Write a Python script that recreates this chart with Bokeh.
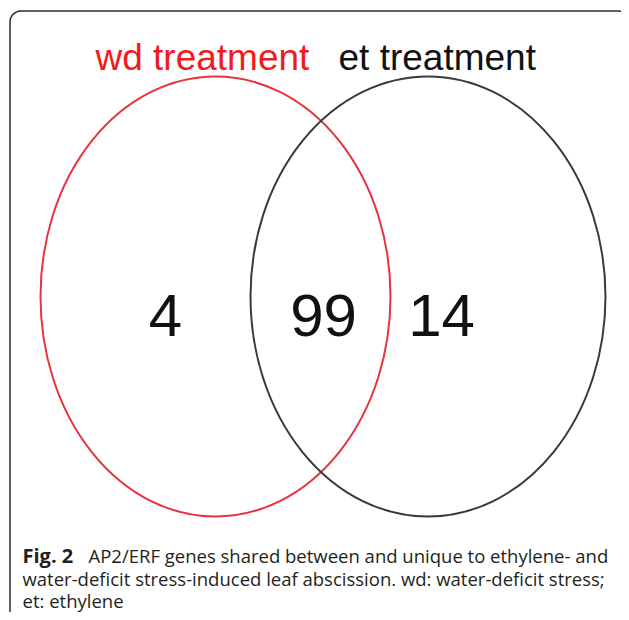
import numpy as np
from bokeh.plotting import figure
from bokeh.models import Range1d
from bokeh.core.properties import value
from bokeh.embed import file_html
from bokeh.resources import INLINE

# ---- data ----
set_names = ["wd treatment", "et treatment"]
region_names = ["wd only", "shared", "et only"]
region_counts = [4, 99, 14]
caption_label = "Fig. 2"
caption_lines = [
    "AP2/ERF genes shared between and unique to ethylene- and",
    "water-deficit stress-induced leaf abscission. wd: water-deficit stress;",
    "et: ethylene",
]

# ---- layout (picture pixel coordinates) ----
W, H = 621, 612
p = figure(width=W, height=H, x_range=Range1d(0, W), y_range=Range1d(H, 0),
           toolbar_location=None, output_backend="svg", min_border=0,
           x_axis_type=None, y_axis_type=None)
p.outline_line_color = None
p.grid.visible = False
p.background_fill_color = "white"
p.border_fill_color = "white"

# rounded frame (decoration)
def rounded_path(x0, y0, x1, y1, r, n=20):
    xs, ys = [x0], [y1]
    xs.append(x0); ys.append(y0 + r)
    t = np.linspace(np.pi, 1.5 * np.pi, n)
    xs += list(x0 + r + r * np.cos(t)); ys += list(y0 + r + r * np.sin(t))
    xs.append(x1 - r); ys.append(y0)
    t = np.linspace(1.5 * np.pi, 2 * np.pi, n)
    xs += list(x1 - r + r * np.cos(t)); ys += list(y0 + r + r * np.sin(t))
    xs.append(x1); ys.append(y1 - r)
    return xs, ys

fx, fy = rounded_path(9.5, 10.5, 628.5, 640, 11)
p.line(fx, fy, line_color="#2b2b2b", line_width=1.5)

# ellipses
set_x = [215, 427.5]
set_w = [350, 355]
cy, eh = 296, 440
set_line_colors = ["#e8323c", "#3a3a3a"]
p.ellipse(x=set_x, y=[cy, cy], width=set_w, height=[eh, eh],
          fill_alpha=0, line_color=set_line_colors, line_width=2)

# set titles
p.text(x=[95, 338], y=[57, 57], text=set_names,
       text_color=["#f21a1a", "#111111"], text_font=value("Liberation Sans"),
       text_font_size="37px", text_baseline="alphabetic", text_align="left")

# region counts
p.text(x=[165, 323, 441], y=[315, 315, 315], text=[str(c) for c in region_counts],
       text_color="#111111", text_font=value("Liberation Sans"),
       text_font_size="60px", text_baseline="alphabetic", text_align="center")

# caption
p.text(x=[22], y=[555], text=[caption_label], text_color="#231f20",
       text_font=value("Open Sans"), text_font_style="bold",
       text_font_size="20px", text_baseline="alphabetic")
p.text(x=[88, 22, 22], y=[555, 578, 600], text=caption_lines, text_color="#231f20",
       text_font=value("Open Sans"), text_font_size="18.5px",
       text_baseline="alphabetic")

open("out.html", "w").write(file_html(p, INLINE))
